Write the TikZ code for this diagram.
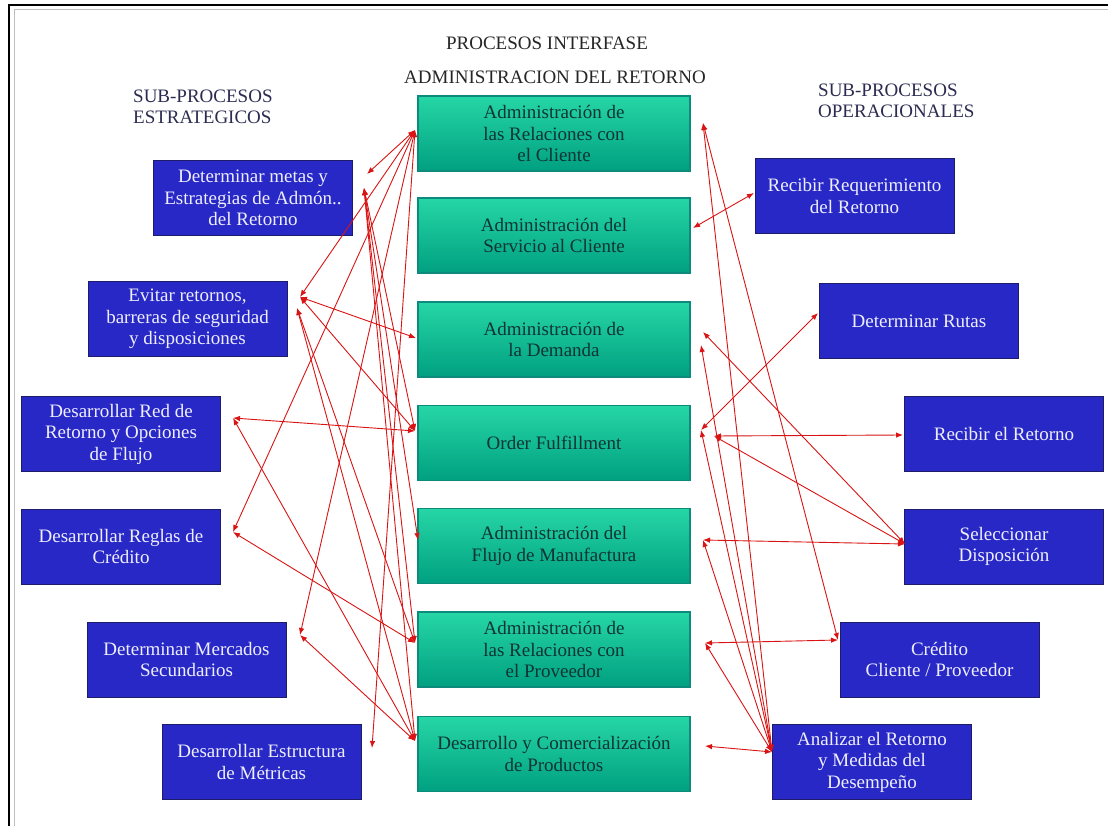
\documentclass[tikz,border=0pt]{standalone}
\usepackage{fontspec}
\setmainfont{Liberation Serif}
\usetikzlibrary{arrows.meta}

\definecolor{subblue}{RGB}{40,40,198}
\definecolor{subedge}{RGB}{28,28,105}
\definecolor{subtext}{RGB}{238,238,255}
\definecolor{greentop}{RGB}{38,214,166}
\definecolor{greenbot}{RGB}{0,160,128}
\definecolor{greenedge}{RGB}{12,138,124}
\definecolor{greentext}{RGB}{14,52,52}
\definecolor{linkred}{RGB}{218,20,20}
\definecolor{headgray}{RGB}{44,44,82}

\begin{document}
\begin{tikzpicture}[x=1pt,y=-1pt,
    font=\fontsize{19}{21.5}\selectfont,
    subproc/.style={draw=subedge,line width=1pt,fill=subblue,text=subtext,
      minimum width=199pt,minimum height=75pt,align=center,inner sep=2pt},
    interproc/.style={draw=greenedge,line width=1.2pt,top color=greentop,
      bottom color=greenbot,text=greentext,minimum width=272pt,
      minimum height=75pt,align=center,inner sep=2pt},
    header/.style={text=headgray,align=left,inner sep=0pt,anchor=west},
    title/.style={text=black!85,inner sep=0pt},
    link/.style={draw=linkred,line width=0.9pt,
      {Latex[length=7pt,width=5.5pt]}-{Latex[length=7pt,width=5.5pt]}}]

  \useasboundingbox (0,0) rectangle (1108,826);
  \fill[white] (0,0) rectangle (1108,826);
  \draw[line width=2.5pt] (9,826) -- (9,5) -- (1108,5);
  \draw[black!25,line width=1pt] (14,826) -- (14,10) -- (1108,10);

  \node[title] (titulo1) at (547,43) {PROCESOS INTERFASE};
  \node[title] (titulo2) at (555,77) {ADMINISTRACION DEL RETORNO};
  \node[header] (estrat) at (133,107) {SUB-PROCESOS\\ESTRATEGICOS};
  \node[header] (operac) at (818,101) {SUB-PROCESOS\\OPERACIONALES};

  \node[subproc] (metas) at (253,198) {Determinar metas y\\Estrategias de Admón..\\del Retorno};
  \node[subproc] (evitar) at (187.5,319) {Evitar retornos,\\barreras de seguridad\\y disposiciones};
  \node[subproc] (red) at (121,434) {Desarrollar Red de\\Retorno y Opciones\\de Flujo};
  \node[subproc] (reglas) at (121,546.5) {Desarrollar Reglas de\\Crédito};
  \node[subproc] (mercados) at (186.5,659.5) {Determinar Mercados\\Secundarios};
  \node[subproc] (metricas) at (261.5,762) {Desarrollar Estructura\\de Métricas};

  \node[interproc] (cliente) at (554,133.5) {Administración de\\las Relaciones con\\el Cliente};
  \node[interproc] (servicio) at (554,235.5) {Administración del\\Servicio al Cliente};
  \node[interproc] (demanda) at (554,339.5) {Administración de\\la Demanda};
  \node[interproc] (order) at (554,443) {Order Fulfillment};
  \node[interproc] (manuf) at (554,546) {Administración del\\Flujo de Manufactura};
  \node[interproc] (proveedor) at (554,649.5) {Administración de\\las Relaciones con\\el Proveedor};
  \node[interproc] (desarrollo) at (554,754) {Desarrollo y Comercialización\\de Productos};

  \node[subproc] (requer) at (854.5,196) {Recibir Requerimiento\\del Retorno};
  \node[subproc] (rutas) at (919,321) {Determinar Rutas};
  \node[subproc] (recibir) at (1004,434) {Recibir el Retorno};
  \node[subproc] (selecc) at (1004,546.5) {Seleccionar\\Disposición};
  \node[subproc] (credito) at (939.5,659.5) {Crédito\\Cliente / Proveedor};
  \node[subproc] (analizar) at (872,762) {Analizar el Retorno\\y Medidas del\\Desempeño};

  % puntos de enlace
  \coordinate (metas-a) at (367,174);
  \coordinate (metas-b) at (364,188);
  \coordinate (evitar-a) at (300,297);
  \coordinate (evitar-b) at (297,308);
  \coordinate (red-a) at (233,418);
  \coordinate (reglas-a) at (233,532);
  \coordinate (mercados-a) at (300,635);
  \coordinate (metricas-a) at (372,748);
  \coordinate (cliente-w) at (415,130);
  \coordinate (demanda-w) at (416,338);
  \coordinate (order-w) at (415,431);
  \coordinate (manuf-w) at (418,540);
  \coordinate (proveedor-w) at (415,643);
  \coordinate (desarrollo-w) at (415,741);

  \coordinate (cliente-e) at (703,123);
  \coordinate (servicio-e) at (693,228);
  \coordinate (demanda-e) at (703,332);
  \coordinate (demanda-f) at (701,345);
  \coordinate (order-e) at (701,430);
  \coordinate (order-f) at (714,436);
  \coordinate (manuf-e) at (703,540);
  \coordinate (proveedor-e) at (705,643);
  \coordinate (desarrollo-e) at (705,746);
  \coordinate (requer-w) at (754,193);
  \coordinate (rutas-w) at (818,313);
  \coordinate (recibir-w) at (903,435);
  \coordinate (selecc-w) at (905,544);
  \coordinate (credito-w) at (838,640);
  \coordinate (analizar-w) at (772,752);

  \draw[link] (cliente-w) -- (metas-a);
  \draw[link] (cliente-w) -- (evitar-a);
  \draw[link] (cliente-w) -- (reglas-a);
  \draw[link] (cliente-w) -- (mercados-a);
  \draw[link] (cliente-w) -- (metricas-a);
  \draw[link] (metas-b) -- (order-w);
  \draw[link] (metas-b) -- (manuf-w);
  \draw[link] (metas-b) -- (proveedor-w);
  \draw[link] (metas-b) -- (desarrollo-w);
  \draw[link] (evitar-a) -- (demanda-w);
  \draw[link] (evitar-a) -- (order-w);
  \draw[link] (evitar-b) -- (proveedor-w);
  \draw[link] (evitar-b) -- (desarrollo-w);
  \draw[link] (red-a) -- (order-w);
  \draw[link] (red-a) -- (desarrollo-w);
  \draw[link] (reglas-a) -- (proveedor-w);
  \draw[link] (mercados-a) -- (desarrollo-w);

  \draw[link] (cliente-e) -- (analizar-w);
  \draw[link] (cliente-e) -- (credito-w);
  \draw[link] (servicio-e) -- (requer-w);
  \draw[link] (demanda-e) -- (selecc-w);
  \draw[link] (demanda-f) -- (analizar-w);
  \draw[link] (order-e) -- (rutas-w);
  \draw[link] (order-f) -- (recibir-w);
  \draw[link] (order-f) -- (selecc-w);
  \draw[link] (order-e) -- (analizar-w);
  \draw[link] (manuf-e) -- (selecc-w);
  \draw[link] (manuf-e) -- (analizar-w);
  \draw[link] (proveedor-e) -- (credito-w);
  \draw[link] (proveedor-e) -- (analizar-w);
  \draw[link] (desarrollo-e) -- (analizar-w);
\end{tikzpicture}
\end{document}
